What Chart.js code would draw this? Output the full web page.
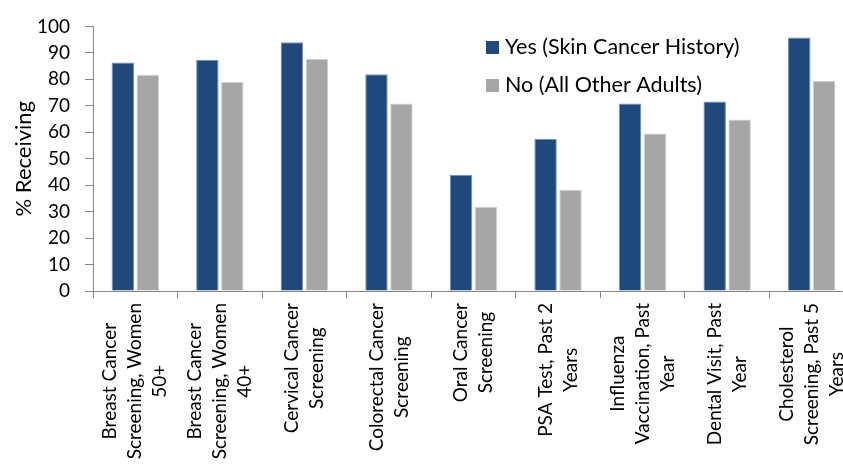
<!DOCTYPE html>
<html>
<head>
<meta charset="utf-8">
<script src="https://cdn.jsdelivr.net/npm/chart.js@4"></script>
<style>
  html, body { margin: 0; padding: 0; background: #fff; overflow: hidden; }
  #myChart { display: block; }
</style>
</head>
<body>
<canvas id="myChart" width="855" height="466"></canvas>
<script>
const categories = [
    ['Breast Cancer', 'Screening, Women', '50+'],
    ['Breast Cancer', 'Screening, Women', '40+'],
    ['Cervical Cancer', 'Screening'],
    ['Colorectal Cancer', 'Screening'],
    ['Oral Cancer', 'Screening'],
    ['PSA Test, Past 2', 'Years'],
    ['Influenza', 'Vaccination, Past', 'Year'],
    ['Dental Visit, Past', 'Year'],
    ['Cholesterol', 'Screening, Past 5', 'Years']
];

const yes_values = [86.4, 87.3, 94.0, 81.9, 43.9, 57.4, 70.9, 71.6, 95.8];
const no_values  = [81.7, 79.0, 87.7, 70.9, 31.8, 38.3, 59.5, 64.8, 79.4];

const series_names = ['Yes (Skin Cancer History)', 'No (All Other Adults)'];
const y_ticks = [0, 10, 20, 30, 40, 50, 60, 70, 80, 90, 100];

const font_family = 'Lato, "Open Sans", sans-serif';
const axis_grey = '#868686';

// rotated category labels, each line centred like the original
const category_labels = {
    id: 'category_labels',
    afterDraw(chart) {
        const x_scale = chart.scales.x;
        const ctx = chart.ctx;
        const line_height = 25;
        ctx.save();
        ctx.font = '19px ' + font_family;
        ctx.fillStyle = '#000';
        ctx.textAlign = 'center';
        ctx.textBaseline = 'middle';
        chart.data.labels.forEach((lines, i) => {
            const px = x_scale.getPixelForValue(i);
            const widest = Math.max(...lines.map(l => ctx.measureText(l).width));
            ctx.save();
            ctx.translate(px, x_scale.top + 12 + widest / 2);
            ctx.rotate(-Math.PI / 2);
            lines.forEach((line, j) => {
                ctx.fillText(line, 0, (j - (lines.length - 1) / 2) * line_height);
            });
            ctx.restore();
        });
        ctx.restore();
    }
};

// legend sitting inside the plot, two rows
const inner_legend = {
    id: 'inner_legend',
    afterDraw(chart) {
        const ctx = chart.ctx;
        ctx.save();
        ctx.font = '21.5px ' + font_family;
        ctx.textBaseline = 'middle';
        ctx.textAlign = 'left';
        chart.data.datasets.forEach((ds, i) => {
            const cy = 47 + i * 38;
            ctx.fillStyle = ds.backgroundColor;
            ctx.fillRect(486, cy - 6, 13, 13);
            ctx.fillStyle = '#000';
            ctx.fillText(ds.label, 505, cy);
        });
        ctx.restore();
    }
};

const data = {
    labels: categories,
    datasets: [
        {
            label: series_names[0],
            data: yes_values,
            backgroundColor: '#1F497D',
            borderColor: '#7590B2',
            borderWidth: 1
        },
        {
            label: series_names[1],
            data: no_values,
            backgroundColor: '#A6A6A6',
            borderColor: '#CFCFCF',
            borderWidth: 1
        }
    ]
};

const options = {
    responsive: false,
    animation: false,
    layout: {
        padding: { top: 25, right: 1, left: 0, bottom: 0 }
    },
    datasets: {
        bar: {
            categoryPercentage: 0.59,
            barPercentage: 0.9
        }
    },
    scales: {
        x: {
            grid: {
                offset: true,
                drawOnChartArea: false,
                drawTicks: true,
                tickLength: 7,
                color: axis_grey
            },
            border: { color: axis_grey, width: 1 },
            ticks: { display: false },
            afterFit(scale) {
                scale.height = 175;
            }
        },
        y: {
            min: 0,
            max: 100,
            afterBuildTicks(scale) {
                scale.ticks = y_ticks.map(v => ({ value: v }));
            },
            grid: {
                drawOnChartArea: false,
                drawTicks: true,
                tickLength: 8,
                color: axis_grey
            },
            border: { color: axis_grey, width: 1 },
            ticks: {
                color: '#000',
                padding: 15,
                font: { family: font_family, size: 19 }
            },
            title: {
                display: true,
                text: '% Receiving',
                color: '#000',
                font: { family: font_family, size: 22 },
                padding: { top: 11, bottom: 0 }
            },
            afterFit(scale) {
                scale.width = 93;
            }
        }
    },
    plugins: {
        legend: { display: false },
        tooltip: { enabled: false }
    }
};

const chart = new Chart(document.getElementById('myChart'), {
    type: 'bar',
    data: data,
    options: options,
    plugins: [category_labels, inner_legend]
});
</script>
</body>
</html>
